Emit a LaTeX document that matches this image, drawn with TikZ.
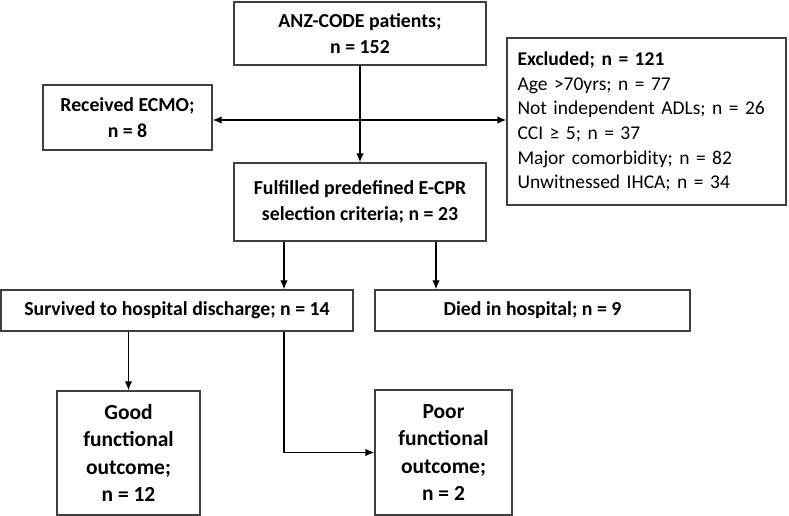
\documentclass[tikz,border=0pt]{standalone}
\usepackage{fontspec}
\setmainfont{Carlito}
\usetikzlibrary{arrows.meta,calc}
\tikzset{
  box/.style={draw=black!75,line width=1.4pt,align=center,inner sep=3pt,
    font=\fontsize{19.8}{25.5}\selectfont\bfseries},
  tallbox/.style={box,font=\fontsize{21.5}{27.5}\selectfont\bfseries},
  listbox/.style={box,align=left,font=\fontsize{19.5}{24.7}\selectfont},
  flow/.style={line width=1.3pt,-{Latex[length=9pt,width=7.5pt]}}
}
\begin{document}
\begin{tikzpicture}[x=1pt,y=-1pt]
\useasboundingbox (0,0) rectangle (789,515);
\node[box,minimum width=252,minimum height=63] (anz) at (360,33.5) {ANZ-CODE patients;\\ n = 152};
\node[box,minimum width=169,minimum height=65] (ecmo) at (127.5,117.5) {Received ECMO;\\ n = 8};
\node[listbox,text width=258,minimum height=167,inner xsep=10.5pt] (excl) at (646.5,121.5)
  {\textbf{Excluded; n = 121}\\ Age >70yrs; n = 77\\ Not independent ADLs; n = 26\\ CCI ≥ 5; n = 37\\
   Major comorbidity; n = 82\\ Unwitnessed IHCA; n = 34};
\node[box,minimum width=252,minimum height=78] (crit) at (360,202) {Fulfilled predefined E-CPR\\ selection criteria; n = 23};
\node[box,minimum width=352,minimum height=41] (surv) at (177,310.5) {Survived to hospital discharge; n = 14};
\node[box,minimum width=315,minimum height=41] (died) at (532.5,310.5) {Died in hospital; n = 9};
\node[tallbox,minimum width=143,minimum height=124] (good) at (128.5,453) {Good\\ functional\\ outcome;\\ n = 12};
\node[tallbox,minimum width=137,minimum height=125] (poor) at (443.5,452.5) {Poor\\ functional\\ outcome;\\ n = 2};

\coordinate (hub) at (anz.south |- 0,120);
\coordinate (cl) at ($(crit.south west)!.2!(crit.south east)$);
\coordinate (cr) at ($(crit.south west)!.8!(crit.south east)$);
\draw[flow] (anz.south) -- (crit.north);
\draw[flow] (hub) -- (hub -| ecmo.east);
\draw[flow] (hub) -- (hub -| excl.west);
\draw[flow] (cl) -- (cl |- surv.north);
\draw[flow] (cr) -- (cr |- died.north);
\draw[flow] (good.north |- surv.south) -- (good.north);
\draw[flow] (cl |- surv.south) |- (poor.west);
\end{tikzpicture}
\end{document}
